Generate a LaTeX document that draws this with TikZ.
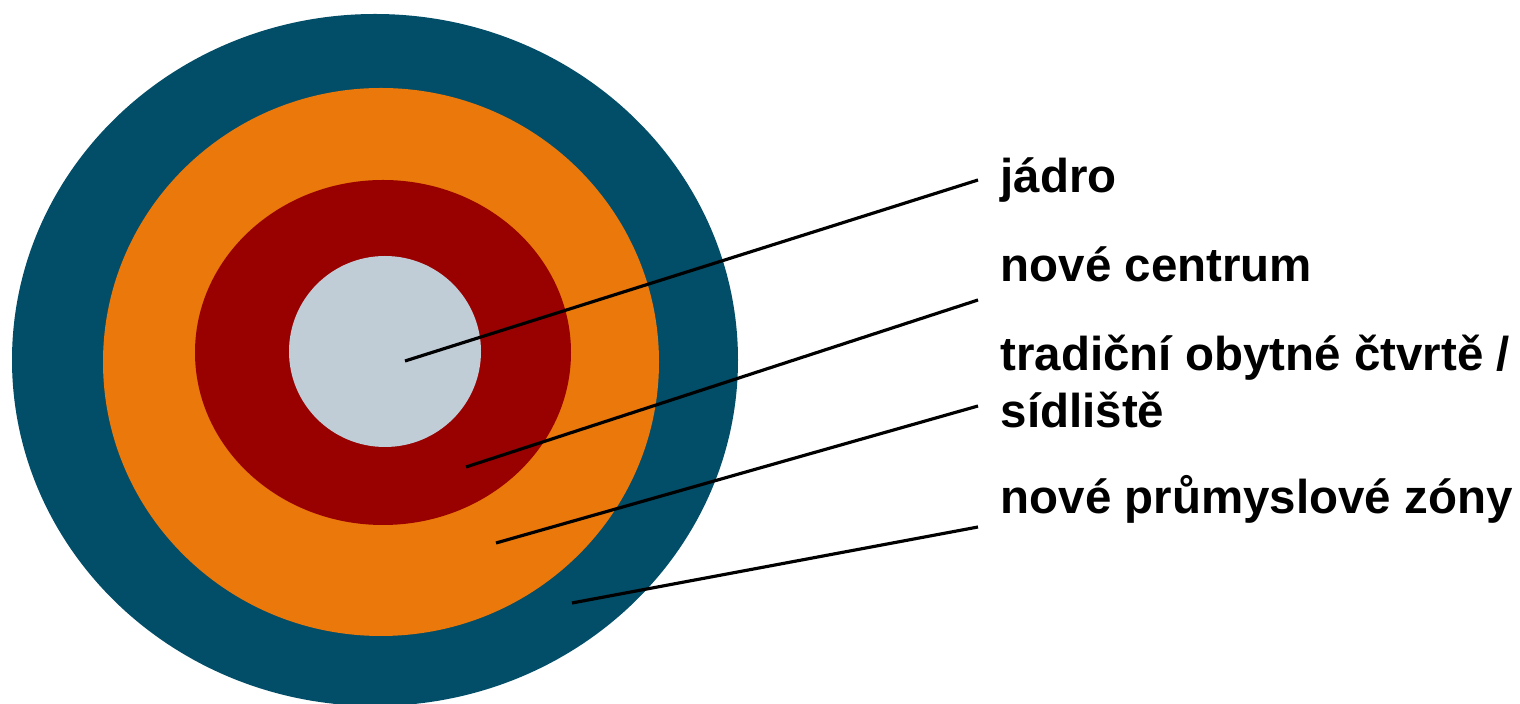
\documentclass[tikz,border=0pt]{standalone}
\usepackage{fontspec}
\setmainfont{Liberation Sans}
\usetikzlibrary{positioning}
\definecolor{zoneblue}{HTML}{024D67}
\definecolor{zoneorange}{HTML}{EB780A}
\definecolor{zonered}{HTML}{990000}
\definecolor{zonegrey}{HTML}{C0CDD7}
\begin{document}
\begin{tikzpicture}[
  x=0.01cm, y=-0.01cm,
  lbl/.style={anchor=base west,inner sep=0pt,align=left,
    font=\fontsize{13.5}{16.4}\selectfont\bfseries},
  ptr/.style={draw=black,line width=0.9pt}]
\useasboundingbox (0,0) rectangle (1520,704);
% rings, outside in
\fill[zoneblue]   (375,360)   ellipse [x radius=363, y radius=346];
\fill[zoneorange] (381,362)   ellipse [x radius=278, y radius=274];
\fill[zonered]    (383,352.5) ellipse [x radius=188, y radius=172.5];
\fill[zonegrey]   (385,351.5) ellipse [x radius=96, y radius=95.5];
% labels (base of the two-line one is its last line)
\node[lbl] (core) at (1000,193) {jádro};
\node[lbl] (centre) at (1000,282) {nové centrum};
\node[lbl] (housing) at (1000,428) {tradiční obytné čtvrtě /\\sídliště};
\node[lbl] (industry) at (1000,514) {nové průmyslové zóny};
% pointer ends
\coordinate (core-in) at (405,361);   \coordinate (core-out) at (978,180);
\coordinate (centre-in) at (466,467); \coordinate (centre-out) at (978,300);
\coordinate (housing-in) at (496,543); \coordinate (housing-out) at (978,406);
\coordinate (industry-in) at (572,603); \coordinate (industry-out) at (978,527);
\draw[ptr] (core-in) -- (core-out);
\draw[ptr] (centre-in) -- (centre-out);
\draw[ptr] (housing-in) -- (housing-out);
\draw[ptr] (industry-in) -- (industry-out);
\end{tikzpicture}
\end{document}
